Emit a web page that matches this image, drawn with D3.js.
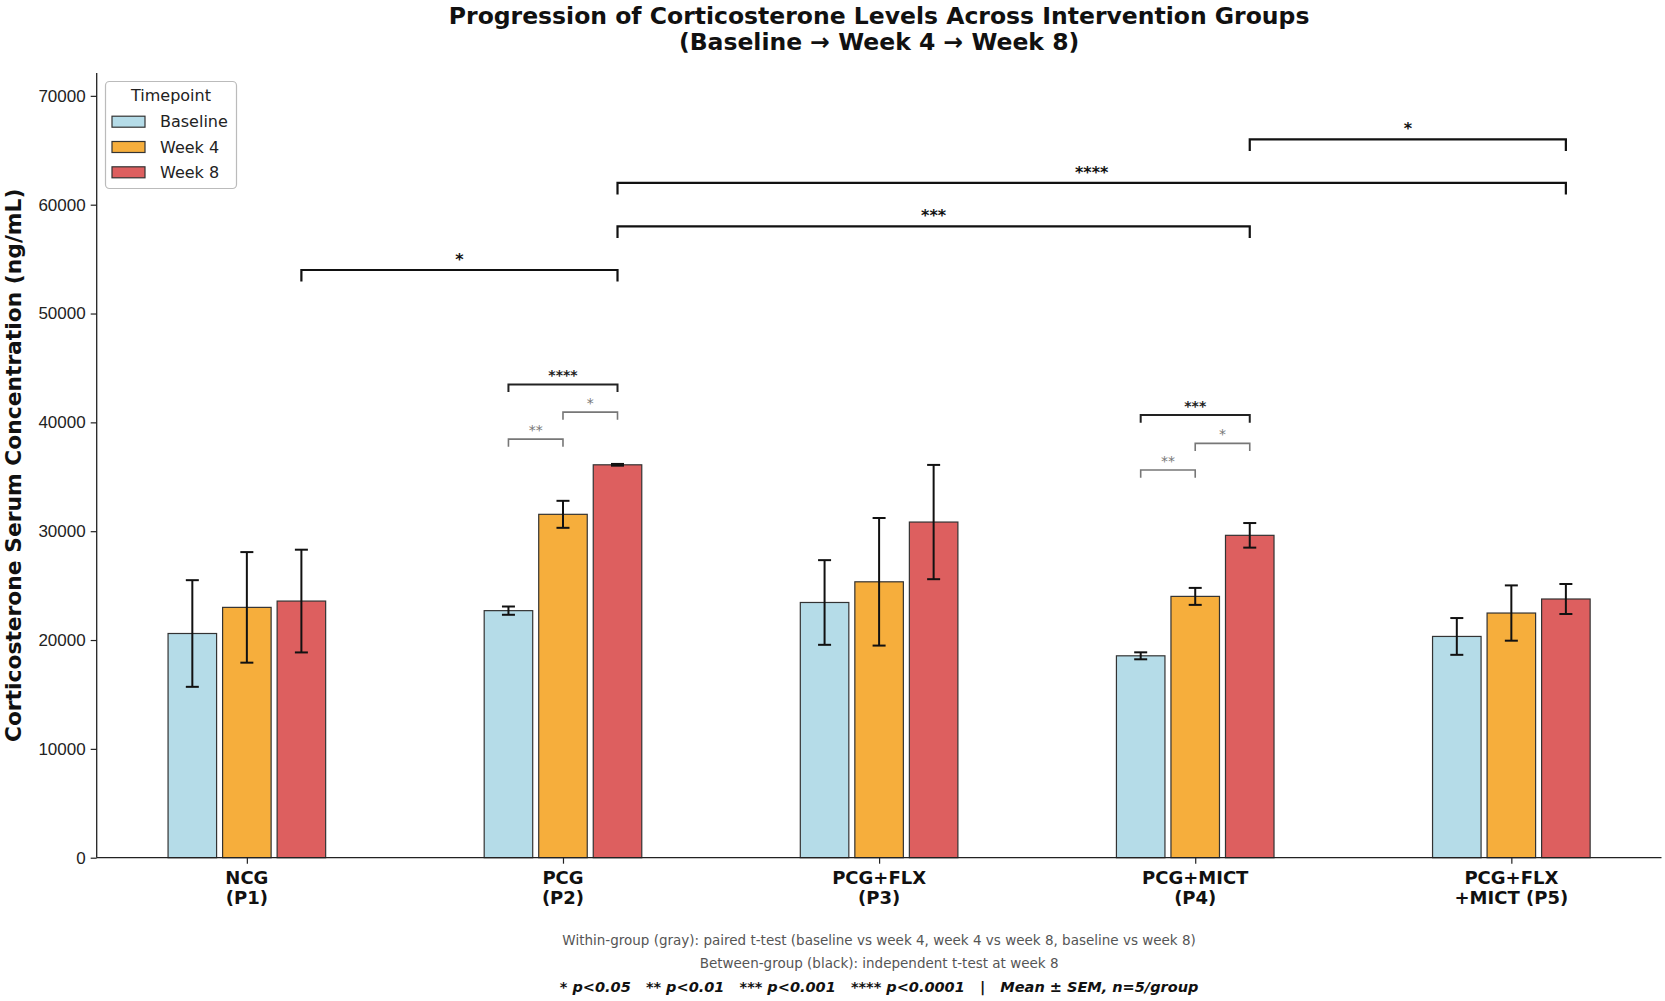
<!DOCTYPE html>
<html>
<head>
<meta charset="utf-8">
<script src="https://cdn.jsdelivr.net/npm/d3@7"></script>
<style>
  body { margin: 0; background: #fff; }
  svg { font-family: "DejaVu Sans", sans-serif; }
</style>
</head>
<body>
<svg id="chart" width="1665" height="1001"></svg>
<script>
// data
const groups = [["NCG", "(P1)"], ["PCG", "(P2)"], ["PCG+FLX", "(P3)"], ["PCG+MICT", "(P4)"], ["PCG+FLX", "+MICT (P5)"]];
const timepoints = ["Baseline", "Week 4", "Week 8"];
const baselineMean = [20600, 22700, 23450, 18550, 20330];
const baselineSem = [4900, 380, 3890, 320, 1690];
const week4Mean = [23000, 31550, 25350, 24010, 22480];
const week4Sem = [5080, 1240, 5860, 780, 2540];
const week8Mean = [23580, 36100, 30840, 29620, 23770];
const week8Sem = [4720, 80, 5250, 1130, 1380];
const yTicks = [0, 10000, 20000, 30000, 40000, 50000, 60000, 70000];

// between-group comparisons (week 8)
const betweenFrom = [0, 1, 1, 3];
const betweenTo = [1, 3, 4, 4];
const betweenY = [54000, 58000, 62000, 66000];
const betweenLabel = ["*", "***", "****", "*"];

// within-group comparisons (timepoint index a -> b)
const withinGroup = [1, 1, 1, 3, 3, 3];
const withinA = [0, 1, 0, 0, 1, 0];
const withinB = [1, 2, 2, 1, 2, 2];
const withinY = [38460, 40940, 43490, 35620, 38070, 40670];
const withinLabel = ["**", "*", "****", "**", "*", "***"];

const colors = ["#b5dce8", "#f6ae3c", "#dd5f5f"];
const means = [baselineMean, week4Mean, week8Mean];
const sems = [baselineSem, week4Sem, week8Sem];

const svg = d3.select("#chart");
const plotLeft = 96.7, plotRight = 1661.5, plotTop = 73, plotBottom = 857.7;

const x = d3.scaleLinear().domain([-0.475, 4.475]).range([plotLeft, plotRight]);
const y = d3.scaleLinear().domain([0, 72100]).range([plotBottom, plotTop]);
const step = 0.1725, barW = 0.1535;
const bx = (g, t) => x(g + (t - 1) * step);
const barPx = x(barW) - x(0);

// bars
const bars = svg.append("g");
timepoints.forEach((tp, t) => {
    bars.selectAll(".bar" + t)
        .data(means[t])
        .enter()
        .append("rect")
        .attr("class", "bar" + t)
        .attr("x", (d, i) => bx(i, t) - barPx / 2)
        .attr("y", (d) => y(d))
        .attr("width", barPx)
        .attr("height", (d) => y(0) - y(d))
        .attr("fill", colors[t])
        .attr("stroke", "#333")
        .attr("stroke-width", 1.2);
});

// error bars
timepoints.forEach((tp, t) => {
    means[t].forEach((m, i) => {
        const cx = bx(i, t);
        const lo = y(m - sems[t][i]), hi = y(m + sems[t][i]);
        bars.append("line").attr("x1", cx).attr("x2", cx).attr("y1", lo).attr("y2", hi)
            .attr("stroke", "#111").attr("stroke-width", 2);
        [lo, hi].forEach((yy) => {
            bars.append("line").attr("x1", cx - 6.5).attr("x2", cx + 6.5).attr("y1", yy).attr("y2", yy)
                .attr("stroke", "#111").attr("stroke-width", 2);
        });
    });
});

// axes
const yAxis = svg.append("g")
    .attr("transform", `translate(${plotLeft},0)`)
    .call(d3.axisLeft(y).tickValues(yTicks).tickFormat(d3.format("d")).tickSize(6).tickPadding(5));
yAxis.select(".domain").attr("d", `M0,${plotBottom}V${plotTop}`).attr("stroke", "#222").attr("stroke-width", 1.3);
yAxis.selectAll(".tick line").attr("stroke", "#222").attr("stroke-width", 1.2);
yAxis.selectAll(".tick text").attr("font-size", 17).attr("fill", "#222");

const xAxis = svg.append("g")
    .attr("transform", `translate(0,${plotBottom})`)
    .call(d3.axisBottom(x).tickValues(d3.range(groups.length)).tickFormat("").tickSize(6));
xAxis.select(".domain").attr("d", `M${plotLeft},0H${plotRight}`).attr("stroke", "#222").attr("stroke-width", 1.3);
xAxis.selectAll(".tick line").attr("stroke", "#222").attr("stroke-width", 1.2);

groups.forEach((lines, i) => {
    const t = svg.append("text").attr("text-anchor", "middle")
        .attr("font-size", 18).attr("font-weight", "bold").attr("fill", "#111");
    lines.forEach((ln, k) => {
        t.append("tspan").attr("x", x(i)).attr("y", 884 + k * 20).text(ln);
    });
});

// y label
svg.append("text")
    .attr("transform", `translate(21,${(plotTop + plotBottom) / 2}) rotate(-90)`)
    .attr("text-anchor", "middle")
    .attr("font-size", 21.8).attr("font-weight", "bold").attr("fill", "#111")
    .text("Corticosterone Serum Concentration (ng/mL)");

// within-group brackets
withinGroup.forEach((gi, k) => {
    const x1 = bx(gi, withinA[k]), x2 = bx(gi, withinB[k]);
    const yy = y(withinY[k]), yd = y(withinY[k] - 700);
    const strong = withinLabel[k].length >= 3;
    const col = strong ? "#222" : "#777";
    svg.append("path")
        .attr("d", `M${x1},${yd}V${yy}H${x2}V${yd}`)
        .attr("fill", "none").attr("stroke", col).attr("stroke-width", strong ? 2 : 1.6);
    svg.append("text").attr("x", (x1 + x2) / 2).attr("y", yy - 4)
        .attr("text-anchor", "middle").attr("font-size", 14)
        .attr("font-weight", strong ? "bold" : "normal").attr("fill", col)
        .text(withinLabel[k]);
});

// between-group brackets
betweenY.forEach((v, k) => {
    const x1 = bx(betweenFrom[k], 2), x2 = bx(betweenTo[k], 2);
    const yy = y(v), yd = y(v - 1060);
    svg.append("path")
        .attr("d", `M${x1},${yd}V${yy}H${x2}V${yd}`)
        .attr("fill", "none").attr("stroke", "#111").attr("stroke-width", 2.2);
    svg.append("text").attr("x", (x1 + x2) / 2).attr("y", yy - 5)
        .attr("text-anchor", "middle").attr("font-size", 16).attr("font-weight", "bold")
        .attr("fill", "#111").text(betweenLabel[k]);
});

// legend
const lg = svg.append("g");
lg.append("rect").attr("x", 105.5).attr("y", 81.5).attr("width", 131).attr("height", 107)
    .attr("rx", 4).attr("fill", "#fff").attr("fill-opacity", 0.8)
    .attr("stroke", "#bbb").attr("stroke-width", 1.2);
lg.append("text").attr("x", 171).attr("y", 101).attr("text-anchor", "middle")
    .attr("font-size", 16).attr("fill", "#222").text("Timepoint");
timepoints.forEach((tp, t) => {
    const cy = 121.7 + t * 25.3;
    lg.append("rect").attr("x", 112).attr("y", cy - 5.5).attr("width", 33).attr("height", 11)
        .attr("fill", colors[t]).attr("stroke", "#333").attr("stroke-width", 1.2);
    lg.append("text").attr("x", 160).attr("y", cy + 5.5).attr("font-size", 16)
        .attr("fill", "#222").text(tp);
});

// title
const midX = (plotLeft + plotRight) / 2;
svg.append("text").attr("x", midX).attr("y", 23.5).attr("text-anchor", "middle")
    .attr("font-size", 23.5).attr("font-weight", "bold").attr("fill", "#111")
    .text("Progression of Corticosterone Levels Across Intervention Groups");
svg.append("text").attr("x", midX).attr("y", 50).attr("text-anchor", "middle")
    .attr("font-size", 23.5).attr("font-weight", "bold").attr("fill", "#111")
    .text("(Baseline \u2192 Week 4 \u2192 Week 8)");

// footer notes
svg.append("text").attr("x", midX).attr("y", 945).attr("text-anchor", "middle")
    .attr("font-size", 13.5).attr("fill", "#555")
    .text("Within-group (gray): paired t-test (baseline vs week 4, week 4 vs week 8, baseline vs week 8)");
svg.append("text").attr("x", midX).attr("y", 968).attr("text-anchor", "middle")
    .attr("font-size", 13.5).attr("fill", "#555")
    .text("Between-group (black): independent t-test at week 8");
svg.append("text").attr("x", midX).attr("y", 992).attr("text-anchor", "middle")
    .attr("font-size", 14.5).attr("font-weight", "bold").attr("font-style", "italic").attr("fill", "#111")
    .attr("xml:space", "preserve")
    .text("* p<0.05   ** p<0.01   *** p<0.001   **** p<0.0001   |   Mean \u00b1 SEM, n=5/group");
</script>
</body>
</html>
